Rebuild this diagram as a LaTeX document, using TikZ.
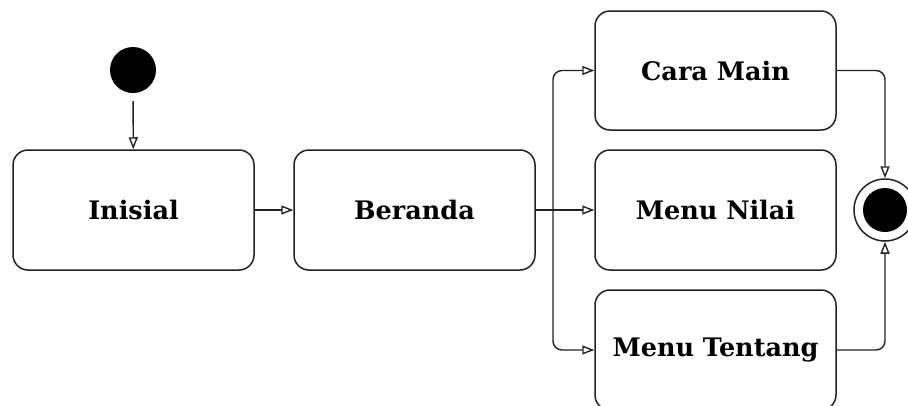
\documentclass[tikz,border=0pt]{standalone}
\usepackage{fontspec}
\setmainfont{DejaVu Serif}
\usetikzlibrary{arrows.meta}
\definecolor{ln}{HTML}{222222}
\tikzset{
  statebox/.style={draw=ln, line width=1.5pt, rounded corners=15pt, fill=white,
    minimum width=241pt, minimum height=120pt, inner sep=0pt,
    font=\fontsize{25.5}{30}\selectfont\bfseries, text=black},
  arr/.style={draw=ln, line width=1.4pt, -{Triangle[open, length=12pt, width=9pt]}},
}
\begin{document}
\begin{tikzpicture}[x=1pt,y=-1pt]
\useasboundingbox (0,0) rectangle (908,405);
\node[circle, fill=black, minimum size=46pt, inner sep=0pt] (init) at (133,70) {};
\node[statebox] (inisial) at (133.5,210) {Inisial};
\node[statebox] (beranda) at (414.5,210) {Beranda};
\node[statebox, minimum height=119pt] (cara) at (715.5,70.5) {Cara Main};
\node[statebox] (nilai) at (715.5,210) {Menu Nilai};
\node[statebox] (tentang) at (715.5,350) {Menu Tentang};
\node[circle, draw=ln, line width=1.5pt, minimum size=62pt, inner sep=0pt] (end) at (885,210) {};
\node[circle, fill=black, minimum size=44pt, inner sep=0pt] (endin) at (end) {};
\coordinate (br) at (553,210);
\draw[arr, shorten <=8pt] (init) -- (inisial);
\draw[arr] (inisial) -- (beranda);
\draw[arr] (beranda) -- (nilai);
\draw[arr, rounded corners=9pt] (br) |- (cara.west);
\draw[arr, rounded corners=9pt] (br) |- (tentang.west);
\draw[arr, rounded corners=9pt] (cara.east) -| (end.north);
\draw[arr, rounded corners=9pt] (tentang.east) -| (end.south);
\end{tikzpicture}
\end{document}
